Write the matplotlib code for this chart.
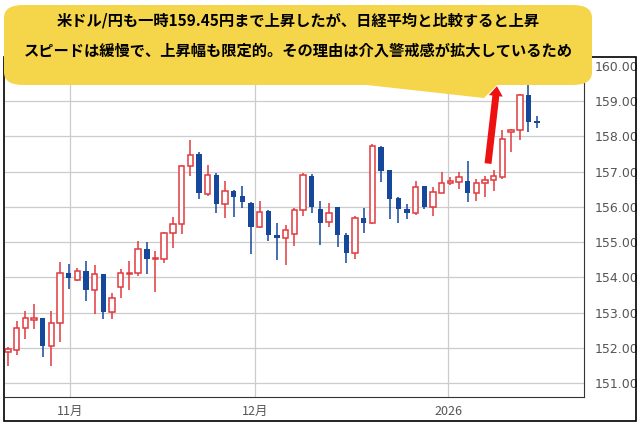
import matplotlib.pyplot as plt
from matplotlib.patches import FancyBboxPatch, Polygon, Rectangle

plt.rcParams['font.family'] = ['Noto Sans CJK JP', 'DejaVu Sans']

# daily candles (open, high, low, close)
opens = [151.90, 151.93, 152.56, 152.78, 152.86, 152.07, 152.70, 154.12, 153.93, 154.18,
         153.63, 154.10, 153.03, 153.72, 154.10, 154.12, 154.81, 154.52, 154.52, 155.25,
         155.51, 157.16, 157.49, 156.36, 156.91, 156.07, 156.45, 156.31, 156.12, 155.44,
         155.87, 155.19, 155.11, 155.22, 155.91, 156.89, 155.94, 155.56, 155.99, 155.21,
         154.69, 155.68, 155.53, 157.71, 157.05, 156.26, 155.94, 155.82, 156.59, 156.01,
         156.40, 156.67, 156.70, 156.73, 156.38, 156.67, 156.76, 156.86, 158.11, 158.18,
         159.17, 158.43]
highs = [152.04, 152.77, 153.05, 153.24, 152.86, 153.05, 154.43, 154.37, 154.28, 154.47,
         154.36, 154.10, 153.57, 154.23, 154.47, 155.04, 155.00, 154.75, 155.28, 155.71,
         157.19, 157.90, 157.55, 157.19, 156.95, 156.73, 156.48, 156.59, 156.14, 156.17,
         155.90, 155.55, 155.49, 155.98, 156.97, 156.94, 156.17, 156.12, 156.00, 155.25,
         155.74, 155.96, 157.77, 157.74, 157.05, 156.29, 156.08, 156.74, 156.60, 156.57,
         156.98, 156.86, 156.98, 157.30, 156.78, 156.88, 157.05, 158.18, 158.21, 159.20,
         159.45, 158.58]
lows = [151.48, 151.81, 152.26, 152.54, 151.73, 151.50, 152.16, 153.67, 153.91, 153.32,
        152.96, 152.82, 152.82, 153.41, 153.65, 154.05, 154.10, 153.60, 154.42, 154.83,
        155.22, 156.89, 156.22, 156.30, 155.82, 155.68, 155.72, 155.98, 154.67, 155.40,
        155.02, 154.50, 154.34, 154.90, 155.75, 155.82, 154.92, 155.44, 154.85, 154.40,
        154.52, 155.27, 155.51, 156.72, 155.65, 155.55, 155.65, 155.77, 155.94, 155.75,
        156.38, 156.62, 156.51, 156.13, 156.18, 156.29, 156.46, 156.79, 157.55, 157.89,
        158.13, 158.24]
closes = [151.97, 152.56, 152.85, 152.85, 152.07, 152.70, 154.12, 153.97, 154.18, 153.63,
          154.09, 153.03, 153.41, 154.12, 154.12, 154.81, 154.52, 154.54, 155.25, 155.51,
          157.16, 157.46, 156.39, 156.91, 156.07, 156.45, 156.29, 156.15, 155.44, 155.85,
          155.19, 155.11, 155.35, 155.91, 156.91, 156.01, 155.55, 155.82, 155.19, 154.69,
          155.68, 155.53, 157.73, 157.03, 156.23, 155.93, 155.82, 156.56, 156.01, 156.41,
          156.67, 156.73, 156.84, 156.38, 156.67, 156.76, 156.88, 157.92, 158.18, 159.17,
          158.41, 158.37]

month_pos = [7.15, 28.5, 50.75]
month_labels = ['11月', '12月', '2026']
price_ticks = [151, 152, 153, 154, 155, 156, 157, 158, 159, 160]

up_col = '#e0393e'
down_col = '#15479b'

fig = plt.figure(figsize=(6.4, 4.24), dpi=100)
ax = fig.add_axes([5 / 640, 27 / 424, 579 / 640, 340 / 424])

for i in range(len(opens)):
    o, h, l, c = opens[i], highs[i], lows[i], closes[i]
    if c >= o:
        ax.vlines(i, l, h, color=up_col, lw=1.1, zorder=2)
        ax.bar(i, max(c - o, 0.03), bottom=o, width=0.62, facecolor='white',
               edgecolor=up_col, linewidth=1.1, zorder=3)
    else:
        ax.vlines(i, l, h, color=down_col, lw=1.1, zorder=2)
        ax.bar(i, o - c, bottom=c, width=0.62, color=down_col, linewidth=0, zorder=3)

ax.set_xlim(-0.35, 66.4)
ax.set_ylim(150.61, 160.25)
ax.set_xticks(month_pos)
ax.set_xticklabels(month_labels, fontsize=9, color='#555555')
ax.set_yticks(price_ticks)
ax.set_yticklabels([f'{p:.2f}' for p in price_ticks], fontsize=9, color='#555555',
                   family=['DejaVu Sans'])
ax.yaxis.tick_right()
ax.tick_params(length=0, pad=6)
ax.tick_params(axis='y', pad=8)
ax.grid(True, color='#cccccc', lw=0.9)
ax.set_axisbelow(True)
for side in ['top', 'left']:
    ax.spines[side].set_visible(False)
ax.spines['right'].set_color('#333333')
ax.spines['bottom'].set_color('#333333')

# outer frame
fig.patches.append(Rectangle((4 / 640, 3 / 424), 632 / 640, 364 / 424, transform=fig.transFigure,
                             fill=False, edgecolor='black', lw=1.2))

# red arrow
ax.annotate('', xy=(56.4, 159.5), xytext=(55.3, 157.15), annotation_clip=False,
            arrowprops=dict(arrowstyle='simple,head_width=1.0,head_length=0.7,tail_width=0.5',
                            color='#ee1111', lw=0), zorder=6)

# callout bubble
fig.patches.append(FancyBboxPatch((4 / 640, 339 / 424), 588 / 640, 80 / 424,
                                  boxstyle='round,pad=0,rounding_size=0.03',
                                  transform=fig.transFigure, facecolor='#f5d54a',
                                  edgecolor='none', zorder=5))
fig.patches.append(Polygon([(340 / 640, 342 / 424), (484 / 640, 326 / 424), (500 / 640, 342 / 424)],
                           closed=True, transform=fig.transFigure, facecolor='#f5d54a',
                           edgecolor='none', zorder=5))
fig.text(298 / 640, 403 / 424, '米ドル/円も一時159.45円まで上昇したが、日経平均と比較すると上昇',
         ha='center', va='center', fontsize=11, fontweight='bold', zorder=7)
fig.text(298 / 640, 373 / 424, 'スピードは緩慢で、上昇幅も限定的。その理由は介入警戒感が拡大しているため',
         ha='center', va='center', fontsize=11, fontweight='bold', zorder=7)

fig.savefig('out.png', dpi=100)
